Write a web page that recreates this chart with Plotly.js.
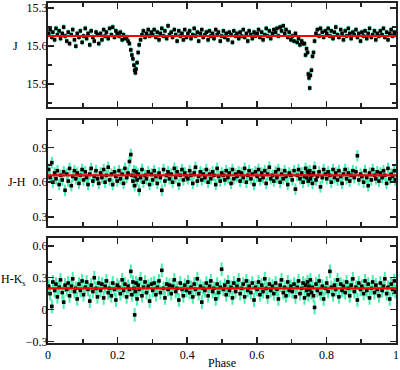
<!DOCTYPE html>
<html>
<head>
<meta charset="utf-8">
<script src="https://cdn.plot.ly/plotly-3.0.1.min.js"></script>
<style>html,body{margin:0;padding:0;background:#fff;}#chart{width:400px;height:370px;}</style>
</head>
<body>
<div id="chart"></div>
<script>
// Orbital phase of each observation (shared by all three panels)
const phase = [
0.002,0.006,0.011,0.014,0.019,0.023,0.027,0.032,0.036,0.041,0.045,0.049,
0.054,0.058,0.062,0.067,0.071,0.076,0.080,0.084,0.089,0.093,0.098,
0.102,0.107,0.111,0.115,0.120,0.124,0.129,0.133,0.138,0.142,0.146,
0.151,0.155,0.160,0.164,0.168,0.173,0.177,0.182,0.186,0.191,0.195,0.199,
0.204,0.208,0.213,0.217,0.221,0.226,0.230,0.234,0.238,0.241,0.244,0.247,0.249,0.251,0.253,0.256,0.259,0.262,0.266,0.270,0.274,0.279,0.283,0.288,0.292,0.297,
0.301,0.305,0.310,0.314,0.319,0.323,0.327,0.332,0.336,0.341,0.345,0.349,
0.354,0.358,0.363,0.367,0.371,0.376,0.380,0.385,0.389,0.393,0.398,
0.402,0.407,0.411,0.416,0.420,0.424,0.429,0.433,0.438,0.442,0.446,
0.451,0.455,0.460,0.464,0.468,0.473,0.477,0.482,0.486,0.490,0.495,0.499,
0.504,0.508,0.512,0.517,0.521,0.526,0.530,0.534,0.539,0.543,0.548,
0.552,0.556,0.561,0.565,0.570,0.574,0.578,0.583,0.587,0.592,0.596,
0.601,0.605,0.609,0.614,0.618,0.623,0.627,0.631,0.636,0.640,0.645,0.649,
0.654,0.658,0.662,0.667,0.671,0.676,0.680,0.684,0.689,0.693,0.698,
0.702,0.707,0.711,0.716,0.720,0.724,0.729,0.733,0.737,0.740,0.743,0.746,0.748,0.750,0.752,0.754,0.757,0.760,0.763,0.766,0.770,0.774,0.779,0.783,0.788,0.792,0.797,
0.801,0.805,0.810,0.814,0.819,0.823,0.827,0.832,0.836,0.841,0.845,0.849,
0.854,0.858,0.863,0.867,0.871,0.876,0.880,0.885,0.889,0.893,0.898,
0.902,0.907,0.911,0.916,0.920,0.924,0.929,0.933,0.938,0.942,0.946,
0.951,0.955,0.960,0.964,0.968,0.973,0.977,0.982,0.986,0.990,0.995,0.998
];

// J magnitude
const jMag = [
15.50,15.47,15.53,15.49,15.55,15.46,15.51,15.48,15.54,15.50,15.45,15.52,
15.56,15.49,15.58,15.51,15.47,15.55,15.60,15.50,15.53,15.48,15.57,
15.52,15.46,15.54,15.50,15.59,15.48,15.53,15.56,15.49,15.51,15.58,
15.50,15.55,15.47,15.52,15.49,15.54,15.46,15.51,15.45,15.53,15.48,15.50,
15.52,15.49,15.55,15.51,15.54,15.53,15.56,15.58,15.63,15.67,15.70,15.75,15.79,15.81,15.78,15.73,15.65,15.59,15.55,15.51,15.48,15.53,15.50,15.47,15.52,15.49,
15.51,15.47,15.53,15.49,15.55,15.50,15.46,15.52,15.48,15.54,15.44,15.51,
15.49,15.53,15.47,15.51,15.56,15.48,15.52,15.50,15.55,15.47,15.53,
15.50,15.48,15.54,15.51,15.46,15.52,15.49,15.56,15.50,15.47,15.53,
15.51,15.49,15.55,15.48,15.52,15.50,15.54,15.47,15.51,15.49,15.56,15.52,
15.48,15.53,15.50,15.55,15.49,15.51,15.57,15.48,15.52,15.50,15.54,
15.49,15.52,15.47,15.53,15.50,15.56,15.48,15.51,15.54,15.49,15.52,
15.50,15.47,15.53,15.49,15.55,15.51,15.46,15.52,15.48,15.54,15.50,15.47,
15.49,15.46,15.52,15.45,15.48,15.44,15.50,15.47,15.53,15.49,15.55,
15.52,15.56,15.50,15.57,15.54,15.59,15.56,15.58,15.58,15.67,15.62,15.65,15.82,15.85,15.93,15.83,15.79,15.68,15.65,15.56,15.50,15.47,15.52,15.46,15.49,15.53,15.48,
15.50,15.46,15.52,15.48,15.54,15.49,15.45,15.51,15.53,15.47,15.50,15.55,
15.48,15.52,15.46,15.50,15.54,15.49,15.51,15.47,15.53,15.50,15.56,
15.49,15.52,15.48,15.54,15.50,15.46,15.53,15.51,15.48,15.55,15.50,
15.52,15.48,15.51,15.46,15.53,15.49,15.55,15.50,15.47,15.52,15.49,15.51
];

// J-H colour
const jh = [
0.71,0.64,0.77,0.60,0.68,0.63,0.70,0.58,0.66,0.62,0.69,0.53,
0.67,0.61,0.72,0.57,0.65,0.70,0.63,0.68,0.59,0.66,0.71,
0.62,0.69,0.64,0.58,0.67,0.72,0.61,0.65,0.70,0.63,0.59,
0.68,0.64,0.71,0.60,0.66,0.73,0.62,0.67,0.58,0.69,0.65,0.61,
0.70,0.63,0.67,0.59,0.72,0.64,0.68,0.78,0.84,0.66,0.61,0.70,0.57,0.65,0.69,0.62,0.67,0.53,0.64,0.71,0.60,0.66,0.63,0.69,0.58,0.67,
0.62,0.70,0.65,0.59,0.68,0.64,0.53,0.71,0.61,0.66,0.69,0.63,
0.67,0.60,0.72,0.64,0.69,0.58,0.66,0.71,0.62,0.68,0.65,
0.63,0.70,0.66,0.59,0.68,0.73,0.61,0.65,0.69,0.62,0.67,
0.64,0.71,0.60,0.67,0.63,0.69,0.66,0.58,0.72,0.65,0.61,0.68,
0.66,0.62,0.70,0.64,0.68,0.59,0.71,0.63,0.67,0.65,0.69,
0.61,0.68,0.64,0.72,0.60,0.66,0.70,0.63,0.67,0.58,0.69,
0.65,0.71,0.62,0.68,0.64,0.70,0.59,0.67,0.73,0.63,0.66,0.61,
0.69,0.64,0.71,0.60,0.67,0.63,0.70,0.65,0.58,0.68,0.66,
0.62,0.70,0.54,0.66,0.71,0.63,0.68,0.60,0.65,0.72,0.64,0.69,0.61,0.67,0.70,0.63,0.66,0.59,0.68,0.73,0.62,0.65,0.69,0.56,0.64,0.71,0.67,
0.63,0.69,0.66,0.60,0.71,0.64,0.68,0.62,0.70,0.65,0.59,0.67,
0.71,0.63,0.68,0.61,0.66,0.70,0.64,0.69,0.83,0.62,0.67,
0.65,0.60,0.70,0.64,0.57,0.68,0.62,0.71,0.66,0.63,0.69,
0.61,0.68,0.64,0.70,0.66,0.59,0.72,0.63,0.67,0.65,0.70,0.62
];

// H-Ks colour
const hk = [
0.22,0.15,0.03,0.26,0.18,0.24,0.12,0.21,0.28,0.16,0.07,0.23,
0.19,0.25,0.13,0.22,0.29,0.17,0.20,0.10,0.24,0.18,0.27,
0.14,0.21,0.26,0.19,0.08,0.23,0.17,0.30,0.20,0.12,0.25,
0.18,0.24,0.11,0.22,0.27,0.16,0.20,0.13,0.25,0.19,0.09,0.23,
0.21,0.15,0.28,0.18,0.24,0.12,0.22,0.19,0.36,0.14,0.26,0.20,-0.05,0.17,0.25,0.10,0.23,0.19,0.29,0.13,0.21,0.26,0.16,0.22,0.08,0.24,
0.18,0.25,0.14,0.21,0.27,0.16,0.37,0.20,0.11,0.24,0.19,0.23,
0.15,0.22,0.28,0.17,0.20,0.09,0.25,0.19,0.13,0.23,0.18,
0.26,0.16,0.21,0.12,0.24,0.19,0.29,0.15,0.22,0.07,0.20,
0.18,0.25,0.13,0.22,0.27,0.17,0.20,0.10,0.24,0.16,0.21,0.38,
0.19,0.23,0.14,0.26,0.18,0.21,0.11,0.25,0.17,0.22,0.28,
0.15,0.20,0.24,0.12,0.27,0.18,0.22,0.16,0.25,0.09,0.21,
0.19,0.26,0.14,0.23,0.17,0.29,0.20,0.12,0.24,0.18,0.22,0.15,
0.25,0.19,0.10,0.23,0.28,0.16,0.21,0.13,0.26,0.18,0.22,
0.17,0.24,0.12,0.21,0.27,0.15,0.20,0.25,0.11,0.23,0.18,0.26,0.14,0.22,0.19,0.28,0.16,0.21,0.13,0.02,0.24,0.18,0.27,0.15,0.22,0.10,0.20,
0.25,0.17,0.36,0.21,0.14,0.23,0.19,0.28,0.12,0.24,0.18,0.22,
0.16,0.26,0.20,0.13,0.23,0.29,0.17,0.21,0.09,0.25,0.19,
0.22,0.15,0.27,0.18,0.24,0.11,0.20,0.26,0.16,0.23,0.19,
0.13,0.25,0.18,0.22,0.29,0.15,0.21,0.10,0.24,0.19,0.27,0.17
];

// Typical photometric uncertainties
const errJ = 0.022;
const errJH = 0.05;
const errHK = 0.065;

// Mean levels (red lines)
const meanX = [0, 1];
const meanJ = [15.52, 15.52];
const meanJH = [0.66, 0.66];
const meanHK = [0.20, 0.20];

const green = '#45F0AE';
function pts(y, err, xa, ya) {
  return {
    x: phase, y: y, xaxis: xa, yaxis: ya, type: 'scatter', mode: 'markers',
    marker: {symbol: 'square', size: 3.6, color: '#000'},
    error_y: {type: 'constant', value: err, color: green, thickness: 2, width: 0},
    hoverinfo: 'skip', showlegend: false
  };
}
function mean(y, xa, ya) {
  return {x: meanX, y: y, xaxis: xa, yaxis: ya, type: 'scatter', mode: 'lines',
    line: {color: '#FF0000', width: 2.2}, showlegend: false, hoverinfo: 'skip'};
}

const font = {family: 'Liberation Serif, Times New Roman, serif', size: 12, color: '#000'};
const axBase = {
  showgrid: false, zeroline: false, showline: true, linecolor: '#222', linewidth: 2,
  mirror: 'ticks', ticks: 'inside', ticklen: 6, tickwidth: 1.5, tickcolor: '#222',
  tickfont: font
};
function xax(extra) {
  return Object.assign({}, axBase, {range: [0, 1], tick0: 0, dtick: 0.2,
    minor: {dtick: 0.1, ticklen: 4, tickwidth: 1.5, tickcolor: '#222', ticks: 'inside'}}, extra);
}
function yax(extra) {
  return Object.assign({}, axBase, {dtick: 0.3, ticklabelstandoff: -4,
    minor: {dtick: 0.15, ticklen: 4, tickwidth: 1.5, tickcolor: '#222', ticks: 'inside'}}, extra);
}

const data = [
  pts(jMag, errJ, 'x3', 'y3'), mean(meanJ, 'x3', 'y3'),
  pts(jh, errJH, 'x2', 'y2'), mean(meanJH, 'x2', 'y2'),
  pts(hk, errHK, 'x', 'y'), mean(meanHK, 'x', 'y')
];

const layout = {
  width: 400, height: 370,
  margin: {l: 48, r: 4, t: 3, b: 27},
  paper_bgcolor: '#fff', plot_bgcolor: '#fff',
  font: font,
  xaxis: xax({anchor: 'y', title: {text: 'Phase', font: font, standoff: 3}}),
  xaxis2: xax({anchor: 'y2', matches: 'x', showticklabels: false}),
  xaxis3: xax({anchor: 'y3', matches: 'x', showticklabels: false}),
  yaxis: yax({domain: [0, 0.309], range: [-0.315, 0.675], tick0: 0}),
  yaxis2: yax({domain: [0.344, 0.656], range: [0.22, 1.14], tick0: 0.3}),
  yaxis3: yax({domain: [0.694, 1], range: [16.08, 15.26], tick0: 15.3}),
  annotations: [
    {text: 'J', xref: 'paper', yref: 'y3', x: -0.092, y: 15.6, showarrow: false, font: font, xanchor: 'center', yanchor: 'middle'},
    {text: 'J-H', xref: 'paper', yref: 'y2', x: -0.088, y: 0.6, showarrow: false, font: font, xanchor: 'center', yanchor: 'middle'},
    {text: 'H-K<sub>s</sub>', xref: 'paper', yref: 'y', x: -0.1, y: 0.28, showarrow: false, font: font, xanchor: 'center', yanchor: 'middle'}
  ]
};

Plotly.newPlot('chart', data, layout, {displayModeBar: false, staticPlot: true});
</script>
</body>
</html>
